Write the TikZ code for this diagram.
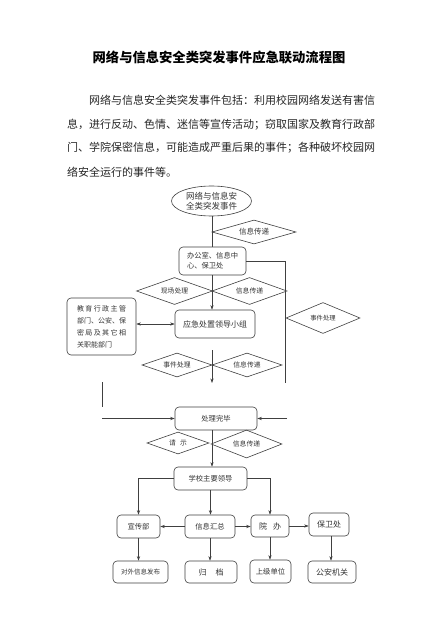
\documentclass[tikz,border=0pt]{standalone}
\usepackage{fontspec}
\setmainfont{Noto Sans CJK SC}
\usetikzlibrary{shapes.geometric,arrows.meta}
\tikzset{
  ln/.style={draw=black!75, line width=0.6pt},
  arr/.style={ln, -{Stealth[length=4.5pt,width=3.2pt]}},
  arrb/.style={ln, {Stealth[length=4.5pt,width=3.2pt]}-{Stealth[length=4.5pt,width=3.2pt]}},
  box/.style={draw=black!75, line width=0.6pt, rounded corners=4pt, inner sep=0pt, text=black!80,
     font=\fontsize{7.3}{9}\selectfont},
  dia/.style={draw=black!75, line width=0.6pt, diamond, shape aspect=4, inner sep=0pt, text=black!80,
     font=\fontsize{6.8}{8}\selectfont},
  para/.style={anchor=west, inner sep=0pt, font=\fontsize{11}{12}\selectfont, text=black!85},
}
\begin{document}
\begin{tikzpicture}[x=1pt,y=-1pt]
\fill[white] (0,0) rectangle (440,620);
\useasboundingbox (0,0) rectangle (440,620);

% title and paragraph
\node[inner sep=0pt, font=\fontsize{13.3}{14}\selectfont\bfseries] (title) at (219,57) {网络与信息安全类突发事件应急联动流程图};
\node[para] (p1) at (89,100) {网络与信息安全类突发事件包括：利用校园网络发送有害信};
\node[para] (p2) at (67,125) {息，进行反动、色情、迷信等宣传活动；窃取国家及教育行政部};
\node[para] (p3) at (67,148) {门、学院保密信息，可能造成严重后果的事件；各种破坏校园网};
\node[para] (p4) at (67,172) {络安全运行的事件等。};

% flowchart nodes
\node[draw=black!75, line width=0.6pt, ellipse, minimum width=80pt, minimum height=30pt, inner sep=0pt,
      align=center, text=black!80, font=\fontsize{8.5}{10.5}\selectfont] (ell) at (211.5,201) {网络与信息安\\全类突发事件};
\node[dia, minimum width=84pt, minimum height=24pt] (d1) at (254,232) {\fontsize{7.5}{8}\selectfont 信息传递};
\node[box, minimum width=67pt, minimum height=28pt, align=left] (b1) at (212.5,261)
   {\makebox[51pt][l]{办\hfill 公\hfill 室\hfill 、\hfill 信\hfill 息\hfill 中}\\[1pt]心、保卫处\hspace{18pt}};
\node[dia, minimum width=76pt, minimum height=27pt] (d2) at (174.5,291) {现场处理};
\node[dia, minimum width=75pt, minimum height=27pt] (d3) at (249.5,291) {信息传递};
\node[box, minimum width=80pt, minimum height=28pt, font=\fontsize{8}{9}\selectfont] (b2) at (215,324) {应急处置领导小组};
\node[box, minimum width=69pt, minimum height=57pt, align=left, font=\fontsize{7}{12}\selectfont] (b3) at (101.5,326.5)
   {\makebox[49pt][l]{教\hfill 育\hfill 行\hfill 政\hfill 主\hfill 管}\\
    \makebox[49pt][l]{部门、公安、保}\\
    \makebox[49pt][l]{密\hfill 局\hfill 及\hfill 其\hfill 它\hfill 相}\\
    \makebox[49pt][l]{关职能部门}};
\node[dia, minimum width=74pt, minimum height=31pt, font=\fontsize{6.3}{7}\selectfont] (d4) at (323,318) {事件处理};
\node[dia, minimum width=70pt, minimum height=24pt] (d5) at (177,365) {事件处理};
\node[dia, minimum width=70pt, minimum height=24pt] (d6) at (247,365) {信息传递};
\node[box, minimum width=82pt, minimum height=23pt] (b4) at (216,418.5) {处理完毕};
\node[dia, minimum width=62pt, minimum height=22pt] (d7) at (178,443) {请\hspace{4pt}示};
\node[dia, minimum width=71pt, minimum height=28pt] (d8) at (246.5,444) {信息传递};
\node[box, minimum width=73pt, minimum height=23pt] (b5) at (210.5,478.5) {学校主要领导};

\node[box, minimum width=43pt, minimum height=23pt] (xc) at (138.5,526.5) {宣传部};
\node[box, minimum width=50pt, minimum height=23pt] (xh) at (210,526.5) {信息汇总};
\node[box, minimum width=38pt, minimum height=22pt, font=\fontsize{8}{9}\selectfont] (yb) at (270,526) {院\hspace{6pt}办};
\node[box, minimum width=40pt, minimum height=23pt, font=\fontsize{8}{9}\selectfont] (bw) at (329,524.5) {保卫处};
\node[box, minimum width=55pt, minimum height=22pt, font=\fontsize{6.5}{8}\selectfont] (dw) at (140.5,572) {对外信息发布};
\node[box, minimum width=52pt, minimum height=22pt, font=\fontsize{8}{9}\selectfont] (gd) at (211,572) {归\hspace{9pt}档};
\node[box, minimum width=41pt, minimum height=23pt] (sj) at (270.5,571.5) {上级单位};
\node[box, minimum width=48pt, minimum height=22pt, font=\fontsize{8}{9}\selectfont] (ga) at (332,572) {公安机关};

% free ends
\coordinate (rc) at (285,383);
\coordinate (rr) at (287,418.5);
\coordinate (la) at (102,382);
\coordinate (lb) at (102,407);
\coordinate (ll) at (102,418.5);
\coordinate (m1) at (212,350);
\coordinate (m2) at (212,383);

% connectors
\draw[ln] ([xshift=0.5pt]ell.south) -- ([xshift=0.5pt]ell.south |- b1.north);
\draw[arr] ([xshift=-0.5pt]b1.south) -- ([xshift=-0.5pt]b1.south |- b2.north);
\draw[ln] (b1.east) -| (rc);
\draw[arr] (rr) -- (b4.east);
\draw[ln] (la) -- (lb);
\draw[arr] (ll) -- (b4.west);
\draw[arrb] (b2.west -| b3.east) -- (b2.west);
\draw[arr] (m1) -- (m2);
\draw[arr] ([xshift=-4pt]b4.south) -- ([xshift=-4pt]b4.south |- b5.north);
\draw[arr] (b5.west) -| (xc.north);
\draw[arr] (b5.east) -| (yb.north);
\draw[arr] (b5.south) -- (b5.south |- xh.north);
\draw[arr] (xh.west) -- (xc.east);
\draw[arr] (xh.east) -- (xh.east -| yb.west);
\draw[arr] (yb.east) -- (yb.east -| bw.west);
\draw[arr] (xc.south) -- (xc.south |- dw.north);
\draw[arr] (xh.south) -- (xh.south |- gd.north);
\draw[arr] (yb.south) -- (yb.south |- sj.north);
\draw[arr] ([xshift=2pt]bw.south) -- ([xshift=2pt]bw.south |- ga.north);
\end{tikzpicture}
\end{document}
